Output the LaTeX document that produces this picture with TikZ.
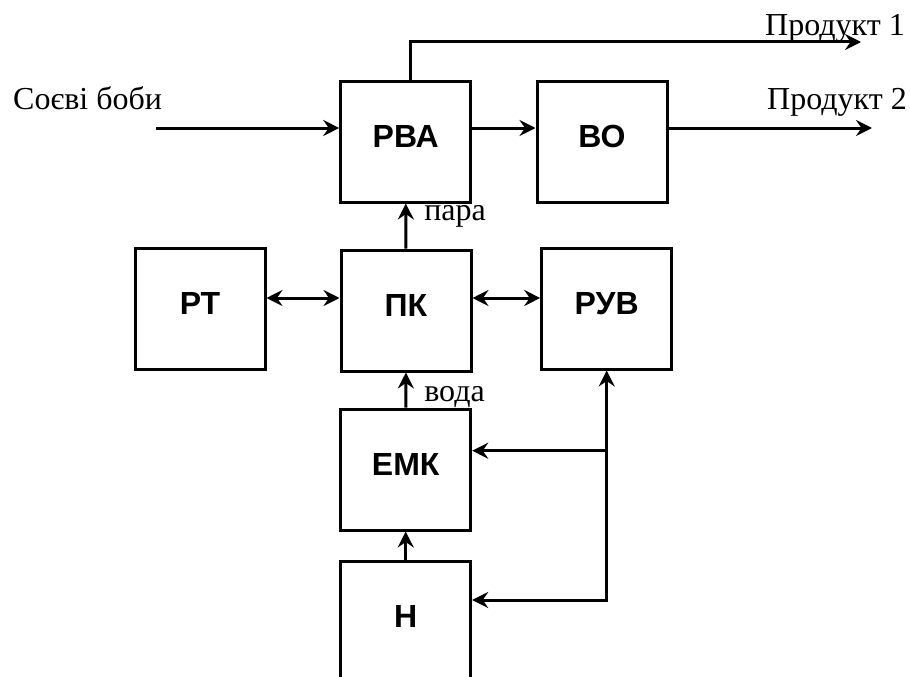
\documentclass[tikz,border=0pt]{standalone}
\usepackage{fontspec}
\setmainfont{Liberation Serif}
\newfontfamily\blockfont{Liberation Sans}
\usepackage{tikz}
\usetikzlibrary{arrows.meta}
\newcommand{\bigsize}{\fontsize{32}{38}\selectfont}

\begin{document}
\begin{tikzpicture}[x=1pt,y=-1pt]
    \useasboundingbox (0,0) rectangle (910,677);
    \clip (0,0) rectangle (910,677);

    \begin{scope}[every node/.style={rectangle,draw=black,line width=3pt,
        minimum width=130pt,minimum height=121pt,inner sep=0pt,text depth=10pt,
        font=\blockfont\bfseries\bigsize}]
      \node (RVA) at (405.7,141.5) {РВА};
      \node (BO) at (602,141.5) {ВО};
      \node (RT) at (200,308.5) {РТ};
      \node (PK) at (406,310.5) {ПК};
      \node (RUV) at (606.7,308.5) {РУВ};
      \node (EMK) at (405.7,469.5) {ЕМК};
      \node (H) at (405.7,621.5) {Н};
    \end{scope}

    \node[font=\bigsize,inner sep=0pt,anchor=base west] (soy) at (13,109) {Соєві боби};
    \node[font=\bigsize,inner sep=0pt,anchor=base west] (prod1) at (765,36) {Продукт 1};
    \node[font=\bigsize,inner sep=0pt,anchor=base west] (prod2) at (767,110) {Продукт 2};

    \coordinate (in) at (156,128);
    \coordinate (out1) at (861,42);
    \coordinate (out2) at (872,128);
    \coordinate (j1) at (606.7,450.7);
    \coordinate (j2) at (606.7,600);

    \begin{scope}[>={Stealth[length=16pt,width=16pt,inset=5.5pt]},
        line width=3pt,
        every node/.style={font=\bigsize,inner sep=0pt,anchor=base west,xshift=17pt},
        every edge/.style={draw=black,line width=3pt}]
      \path [->] (in) edge (in -| RVA.west);
      \path [->] (in -| RVA.east) edge (in -| BO.west);
      \path [->] (in -| BO.east) edge (out2);
      \path [->] (PK) edge node[pos=0.63] {пара} (RVA);
      \path [->] (EMK) edge node[pos=0.16] {вода} (PK);
      \path [->] (H) edge (EMK);
      \path [<->] ([yshift=10.5pt]RT.east) edge ([yshift=10.5pt]RT.east -| PK.west);
      \path [<->] ([yshift=10.5pt]RUV.west -| PK.east) edge ([yshift=10.5pt]RUV.west);
      \draw [->] ([xshift=5pt]RVA.north) |- (out1);
      \draw [<->] (RUV.south) |- (j2 -| H.east);
      \draw [->] (j1) -- (j1 -| EMK.east);
    \end{scope}
\end{tikzpicture}
\end{document}
